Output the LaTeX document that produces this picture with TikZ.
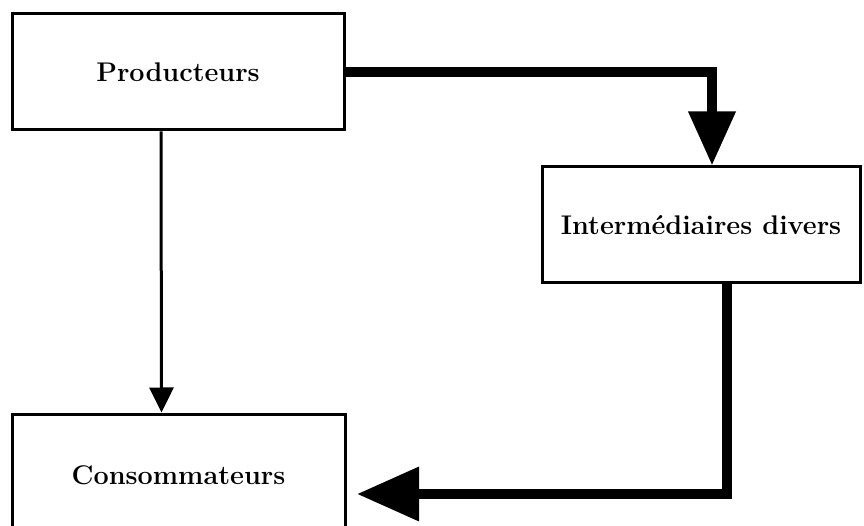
\documentclass[tikz,border=0pt]{standalone}
\usetikzlibrary{arrows.meta}
\begin{document}
\begin{tikzpicture}[x=1pt, y=-1pt,
    boite/.style={draw, line width=3pt, rectangle, inner sep=0pt,
        font=\fontsize{27}{32}\selectfont\bfseries},
    fin/.style={line width=3pt, -{Triangle[length=25pt, width=24pt]}},
    gros/.style={line width=10pt}]
    % Fix the page size
    \useasboundingbox (0,0) rectangle (864,526);

    % Draw the three boxes
    \node[boite, minimum width=332pt, minimum height=116pt] (prod) at (178,72) {Producteurs};
    \node[boite, minimum width=318pt, minimum height=116pt] (inter) at (701,225) {Intermédiaires divers};
    \node[boite, minimum width=333pt, minimum height=122pt] (cons) at (178.5,475) {Consommateurs};

    % Thin arrow straight down
    \draw[fin] ([xshift=-17pt]prod.south) -- ([xshift=-17pt]cons.north);

    % Thick arrow to the intermediaries
    \draw[gros, -{Triangle[length=54pt, width=45pt]}] (prod.east) -| ([xshift=11pt]inter.north);

    % Thick arrow back to the consumers
    \coordinate (pointe) at (357,494);
    \draw[gros, -{Triangle[length=62pt, width=52pt]}] ([xshift=26pt]inter.south) |- (pointe);
\end{tikzpicture}
\end{document}
